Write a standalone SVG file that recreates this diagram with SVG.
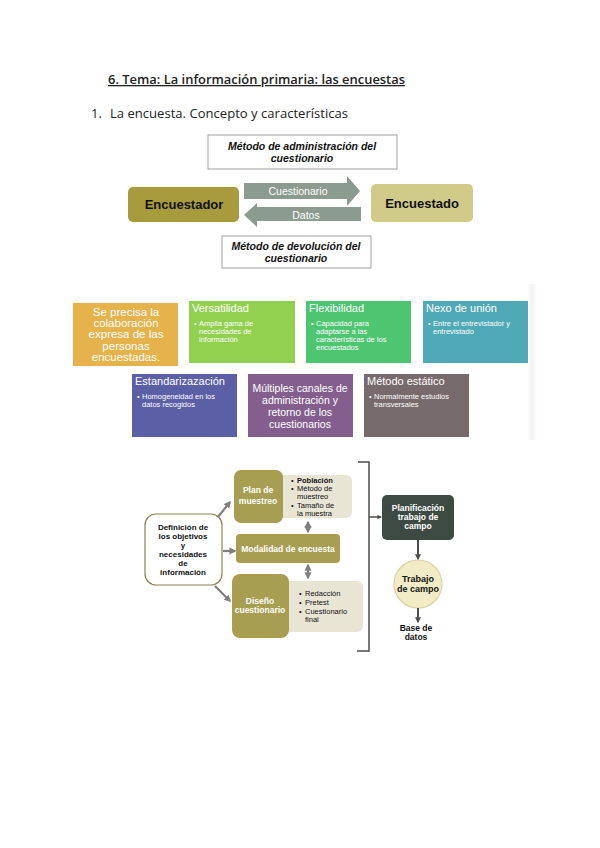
<svg xmlns="http://www.w3.org/2000/svg" width="600" height="848" viewBox="0 0 600 848">
<style>
.hd{font-family:"Open Sans","Noto Sans",sans-serif;fill:#222}
.ar{font-family:"Liberation Sans",Arial,sans-serif}
.b{font-weight:bold}
.it{font-style:italic}
.w{fill:#fff}
.k{fill:#111}
.c{text-anchor:middle}
.ttl{font-family:"Liberation Sans",Arial,sans-serif;font-size:11px;fill:#fff}
.bl{font-family:"Liberation Sans",Arial,sans-serif;font-size:7.5px;fill:#fff}
.gl{font-family:"Liberation Sans",Arial,sans-serif;font-size:7.5px;fill:#111}
.con{stroke:#7f7f7f;stroke-width:2.2;fill:none}
</style>
<defs>
<marker id="ah" viewBox="0 0 10 10" refX="8" refY="5" markerWidth="3.2" markerHeight="3.2" orient="auto-start-reverse"><path d="M0,0 L10,5 L0,10 z" fill="#7f7f7f"/></marker>
<marker id="ahd" viewBox="0 0 10 10" refX="8" refY="5" markerWidth="3" markerHeight="3" orient="auto"><path d="M0,0 L10,5 L0,10 z" fill="#4a4f4b"/></marker>
<linearGradient id="edge" x1="0" x2="1" y1="0" y2="0"><stop offset="0" stop-color="#fff"/><stop offset="0.5" stop-color="#f2f2f2"/><stop offset="1" stop-color="#fff"/></linearGradient>
</defs>

<g id="headings">
<text class="hd" x="108" y="84" font-size="13" font-weight="600" text-decoration="underline" textLength="297" lengthAdjust="spacingAndGlyphs">6. Tema:  La información primaria: las encuestas</text>
<text class="hd" x="91" y="118" font-size="13">1.</text>
<text class="hd" x="110" y="118" font-size="13" textLength="238" lengthAdjust="spacingAndGlyphs">La encuesta. Concepto y características</text>
</g>

<!-- Top diagram -->
<g id="metodo-admin">
<rect x="208" y="135" width="189" height="34" fill="#fff" stroke="#a0a0a0" stroke-width="1"/>
<text class="ar b it k c" font-size="10.5" x="302" y="150">Método de administración del</text>
<text class="ar b it k c" font-size="10.5" x="302" y="162">cuestionario</text>
</g>
<g id="encuestador">
<rect x="128" y="187" width="111" height="35" rx="5" fill="#a79b3e"/>
<text class="ar b k c" font-size="13" x="184" y="209">Encuestador</text>
</g>
<g id="encuestado">
<rect x="371" y="184" width="102" height="38" rx="5" fill="#d1cb8a"/>
<text class="ar b k c" font-size="13" x="422" y="208">Encuestado</text>
</g>
<g id="connectors-top">
<g id="arrow-cuestionario">
<polygon points="244,183 347,183 347,176 360,191 347,206 347,199 244,199" fill="#8b9b8f"/>
<text class="ar w c" font-size="10.5" x="298" y="195">Cuestionario</text>
</g>
<g id="arrow-datos">
<polygon points="361,207 257,207 257,203 244,215 257,227 257,221 361,221" fill="#8b9b8f"/>
<text class="ar w c" font-size="10.5" x="306" y="219">Datos</text>
</g>
</g>
<g id="metodo-devol">
<rect x="222" y="236" width="149" height="32" fill="#fff" stroke="#a0a0a0" stroke-width="1"/>
<text class="ar b it k c" font-size="10.5" x="296" y="250">Método de devolución del</text>
<text class="ar b it k c" font-size="10.5" x="296" y="262">cuestionario</text>
</g>

<!-- Middle panel -->
<rect x="527" y="284" width="10" height="156" fill="url(#edge)"/>
<g id="colaboracion">
<rect x="73" y="303" width="105" height="63" fill="#e6b24b"/>
<g class="ar w c" font-size="11.5">
<text x="126" y="316">Se precisa la</text>
<text x="126" y="327">colaboración</text>
<text x="126" y="338">expresa de las</text>
<text x="126" y="350">personas</text>
<text x="126" y="361">encuestadas.</text>
</g>
</g>
<g id="versatilidad">
<rect x="189" y="301" width="106" height="62" fill="#92d14f"/>
<text class="ttl" x="192" y="312">Versatilidad</text>
<text class="bl" x="194" y="326">•</text>
<text class="bl" x="199" y="326">Amplia gama de</text>
<text class="bl" x="199" y="334">necesidades de</text>
<text class="bl" x="199" y="342">información</text>
</g>
<g id="flexibilidad">
<rect x="306" y="301" width="105" height="62" fill="#4ec571"/>
<text class="ttl" x="309" y="312">Flexibilidad</text>
<text class="bl" x="311" y="326">•</text>
<text class="bl" x="316" y="326">Capacidad para</text>
<text class="bl" x="316" y="334">adaptarse a las</text>
<text class="bl" x="316" y="342">características de los</text>
<text class="bl" x="316" y="350">encuestados</text>
</g>
<g id="nexo">
<rect x="423" y="301" width="105" height="62" fill="#4fa9b6"/>
<text class="ttl" x="426" y="312">Nexo de unión</text>
<text class="bl" x="428" y="326">•</text>
<text class="bl" x="433" y="326">Entre el entrevistador y</text>
<text class="bl" x="433" y="334">entrevistado</text>
</g>
<g id="estandarizacion">
<rect x="132" y="374" width="105" height="63" fill="#5a5fa6"/>
<text class="ttl" x="135" y="385">Estandarizazación</text>
<text class="bl" x="137" y="399">•</text>
<text class="bl" x="142" y="399">Homogeneidad en los</text>
<text class="bl" x="142" y="407">datos recogidos</text>
</g>
<g id="multiples">
<rect x="248" y="374" width="105" height="63" fill="#845f8e"/>
<g class="ar w c" font-size="10.5">
<text x="300" y="392">Múltiples canales de</text>
<text x="300" y="404">administración y</text>
<text x="300" y="416">retorno de los</text>
<text x="300" y="428">cuestionarios</text>
</g>
</g>
<g id="estatico">
<rect x="364" y="374" width="105" height="63" fill="#776a6c"/>
<text class="ttl" x="367" y="385">Método estático</text>
<text class="bl" x="369" y="399">•</text>
<text class="bl" x="374" y="399">Normalmente estudios</text>
<text class="bl" x="374" y="407">transversales</text>
</g>

<!-- Bottom flowchart -->
<g id="plan-detalle">
<rect x="276" y="475" width="76" height="43" rx="6" fill="#e8e5d5"/>
<text class="gl" x="291" y="483">•</text><text class="gl" x="297" y="483" font-weight="bold">Población</text>
<text class="gl" x="291" y="491">•</text><text class="gl" x="297" y="491">Método de</text>
<text class="gl" x="297" y="499">muestreo</text>
<text class="gl" x="291" y="508">•</text><text class="gl" x="297" y="508">Tamaño de</text>
<text class="gl" x="297" y="516">la muestra</text>
</g>
<g id="plan">
<rect x="234" y="470" width="49" height="53" rx="7" fill="#a89e52"/>
<text class="ar b w c" font-size="8.5" x="258" y="493">Plan de</text>
<text class="ar b w c" font-size="8.5" x="258" y="504">muestreo</text>
</g>
<g id="diseno-detalle">
<rect x="282" y="581" width="81" height="51" rx="6" fill="#e8e5d5"/>
<text class="gl" x="299" y="596">•</text><text class="gl" x="305" y="596">Redacción</text>
<text class="gl" x="299" y="605">•</text><text class="gl" x="305" y="605">Pretest</text>
<text class="gl" x="299" y="614">•</text><text class="gl" x="305" y="614">Cuestionario</text>
<text class="gl" x="305" y="622">final</text>
</g>
<g id="diseno">
<rect x="232" y="574" width="57" height="64" rx="8" fill="#a89e52"/>
<text class="ar b w c" font-size="8.5" x="260" y="604">Diseño</text>
<text class="ar b w c" font-size="8.5" x="260" y="613">cuestionario</text>
</g>
<g id="modalidad">
<rect x="236" y="534" width="104" height="29" rx="4" fill="#a89e52"/>
<text class="ar b w c" font-size="8.5" x="288" y="552">Modalidad de encuesta</text>
</g>
<g id="definicion">
<rect x="145" y="514" width="77" height="71" rx="11" fill="#fff" stroke="#8a8450" stroke-width="1.2"/>
<g class="ar b k c" font-size="8">
<text x="183" y="530">Definición de</text>
<text x="183" y="539">los objetivos</text>
<text x="183" y="548">y</text>
<text x="183" y="557">necesidades</text>
<text x="183" y="566">de</text>
<text x="183" y="575">información</text>
</g>
</g>
<g id="planificacion">
<rect x="382" y="495" width="72" height="45" rx="5" fill="#3c4a43"/>
<g class="ar b w c" font-size="8.5">
<text x="418" y="511">Planificación</text>
<text x="418" y="520">trabajo de</text>
<text x="418" y="529">campo</text>
</g>
</g>
<g id="trabajo">
<circle cx="418" cy="584" r="24" fill="#f1ecc6" stroke="#d9d2a3" stroke-width="1.2"/>
<text class="ar b k c" font-size="9" x="418" y="582">Trabajo</text>
<text class="ar b k c" font-size="9" x="418" y="592">de campo</text>
</g>
<g id="base">
<text class="ar b k c" font-size="8.5" x="416" y="631">Base de</text>
<text class="ar b k c" font-size="8.5" x="416" y="640">datos</text>
</g>
<g id="connectors">
<path class="con" d="M218,517 L230,502" marker-end="url(#ah)"/>
<path class="con" d="M223,551 L235,551" marker-end="url(#ah)"/>
<path class="con" d="M215,586 L230,601" marker-end="url(#ah)"/>
<path class="con" d="M308,522 L308,532" stroke-width="2" marker-start="url(#ah)" marker-end="url(#ah)"/>
<path class="con" d="M308,565 L308,578" stroke-width="2" marker-start="url(#ah)" marker-end="url(#ah)"/>
<path d="M358,462 L369,462 L369,651 L357,651" fill="none" stroke="#4a4f4b" stroke-width="1.5"/>
<path d="M369,517 L381,517" stroke="#4a4f4b" stroke-width="1.5" fill="none" marker-end="url(#ahd)"/>
<path d="M418,540 L418,559" stroke="#4a4f4b" stroke-width="2" fill="none" marker-end="url(#ahd)"/>
<path d="M418,608 L418,622" stroke="#4a4f4b" stroke-width="2" fill="none" marker-end="url(#ahd)"/>
</g>
</svg>
